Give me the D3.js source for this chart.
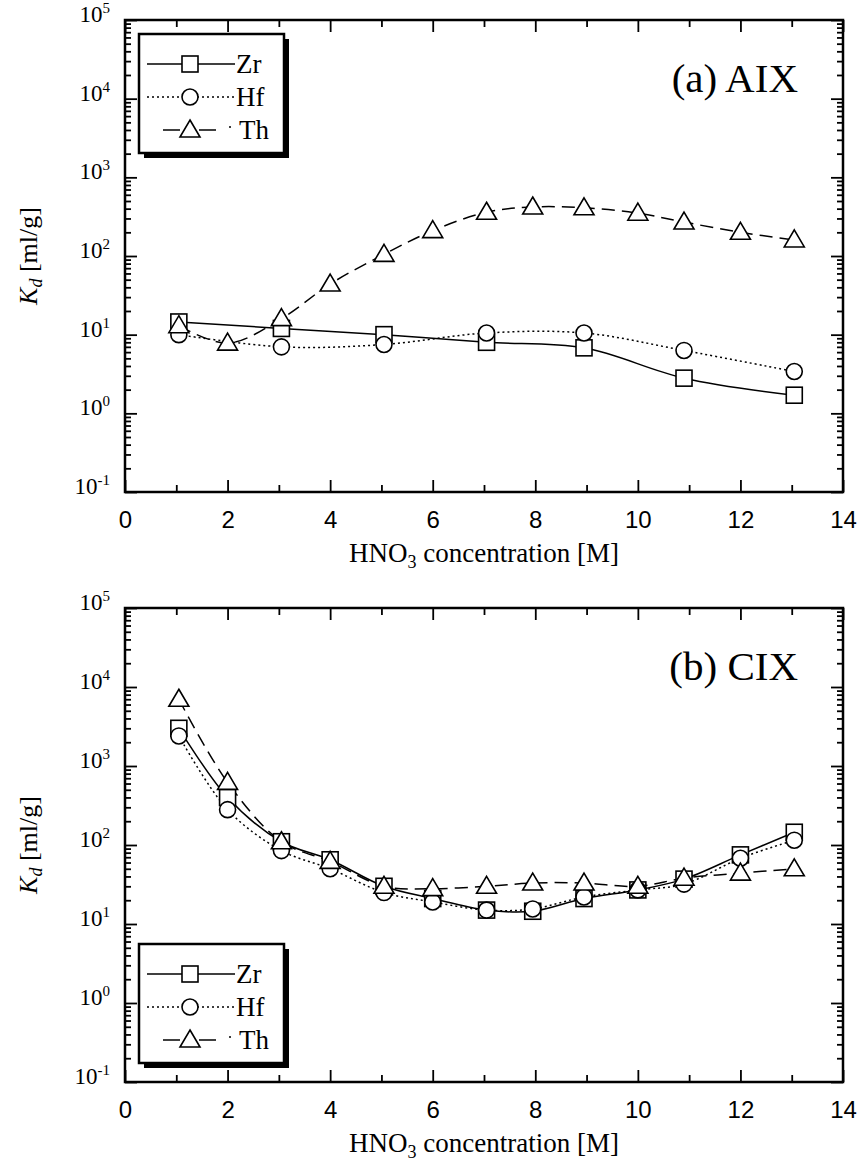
<!DOCTYPE html>
<html>
<head>
<meta charset="utf-8">
<script src="https://cdn.jsdelivr.net/npm/d3@7"></script>
<style>
  body { margin: 0; background: #fff; }
  svg { display: block; font-family: "Liberation Serif", "Times New Roman", serif; }
  .tick line { stroke: #000; stroke-width: 1.8px; }
</style>
</head>
<body>
<script>
// HNO3 concentration (M) at which Kd was measured
var concentrations = [1.05, 2, 3.05, 4, 5.05, 6, 7.05, 7.95, 8.95, 10, 10.9, 12, 13.05];
// (a) AIX: Zr and Hf measured only at every other concentration
var aixZrHfConc = [1.05, 3.05, 5.05, 7.05, 8.95, 10.9, 13.05];
var aixZr = [14.5, 12, 10, 8, 6.8, 2.8, 1.7];
var aixHf = [10, 7, 7.5, 10.5, 10.5, 6.3, 3.4];
var aixTh = [13, 7.8, 16, 44, 105, 210, 360, 420, 410, 350, 270, 200, 160];
// (b) CIX
var cixZr = [3000, 400, 110, 65, 30, 21, 15, 14.5, 21, 27, 37, 75, 145];
var cixHf = [2400, 280, 85, 50, 25, 19, 15, 15.5, 22, 27, 32, 68, 115];
var cixTh = [7000, 620, 110, 62, 30, 28, 30, 33, 33, 30, 38, 44, 50];
// axis ticks
var xMajorTicks = [0, 2, 4, 6, 8, 10, 12, 14];
var xMinorTicks = [1, 3, 5, 7, 9, 11, 13];
var yExponents = [-1, 0, 1, 2, 3, 4, 5];
var seriesNames = ["Zr", "Hf", "Th"];

var W = 857, H = 1168;
var svg = d3.select("body").append("svg").attr("width", W).attr("height", H);

var x = d3.scaleLinear().domain([0, 14]).range([125, 843]);

// line style per element
var dash = { Zr: null, Hf: "2,3", Th: "13,7" };

function yMinor() {
  var out = [];
  yExponents.slice(0, -1).forEach(function(e) {
    for (var k = 2; k <= 9; k++) out.push(k * Math.pow(10, e));
  });
  return out;
}

function marker(g, name, cx, cy) {
  if (name === "Zr") {
    g.append("rect").attr("x", cx - 8).attr("y", cy - 8).attr("width", 16).attr("height", 16)
      .attr("fill", "#fff").attr("stroke", "#000").attr("stroke-width", 1.6);
  } else if (name === "Hf") {
    g.append("circle").attr("cx", cx).attr("cy", cy).attr("r", 8)
      .attr("fill", "#fff").attr("stroke", "#000").attr("stroke-width", 1.6);
  } else {
    g.append("path").attr("d", "M" + cx + "," + (cy - 10) + "L" + (cx + 10) + "," + (cy + 7) + "L" + (cx - 10) + "," + (cy + 7) + "Z")
      .attr("fill", "#fff").attr("stroke", "#000").attr("stroke-width", 1.6);
  }
}

function drawPanel(top, bottom, label, series, legendTop) {
  var y = d3.scaleLog().domain([0.1, 1e5]).range([bottom, top]);
  var g = svg.append("g");

  // ticks, all pointing inward
  g.append("g").attr("transform", "translate(0," + bottom + ")")
    .call(d3.axisBottom(x).tickValues(xMajorTicks).tickSize(-12).tickPadding(19))
    .call(function(a) { a.select(".domain").remove(); a.selectAll("text").attr("font-size", 24).attr("fill", "#000"); });
  g.append("g").attr("transform", "translate(0," + bottom + ")")
    .call(d3.axisBottom(x).tickValues(xMinorTicks).tickSize(-7).tickFormat(""))
    .call(function(a) { a.select(".domain").remove(); });
  g.append("g").attr("transform", "translate(0," + top + ")")
    .call(d3.axisTop(x).tickValues(xMajorTicks).tickSize(-12).tickFormat(""))
    .call(function(a) { a.select(".domain").remove(); });
  g.append("g").attr("transform", "translate(0," + top + ")")
    .call(d3.axisTop(x).tickValues(xMinorTicks).tickSize(-7).tickFormat(""))
    .call(function(a) { a.select(".domain").remove(); });

  var decades = yExponents.map(function(e) { return Math.pow(10, e); });
  [[x(0), d3.axisLeft], [x(14), d3.axisRight]].forEach(function(s) {
    g.append("g").attr("transform", "translate(" + s[0] + ",0)")
      .call(s[1](y).tickValues(decades).tickSize(-12).tickFormat(""))
      .call(function(a) { a.select(".domain").remove(); });
    g.append("g").attr("transform", "translate(" + s[0] + ",0)")
      .call(s[1](y).tickValues(yMinor()).tickSize(-6).tickFormat(""))
      .call(function(a) { a.select(".domain").remove(); a.selectAll("line").attr("stroke-width", 1.3); });
  });

  // y tick labels 10^n
  yExponents.forEach(function(e) {
    var t = g.append("text").attr("x", 110).attr("y", y(Math.pow(10, e)) + 2)
      .attr("text-anchor", "end").attr("font-size", 23);
    t.append("tspan").text("10");
    t.append("tspan").attr("font-size", 15).attr("dy", -9).text(e);
  });

  // frame
  g.append("rect").attr("x", x(0)).attr("y", top).attr("width", x(14) - x(0)).attr("height", bottom - top)
    .attr("fill", "none").attr("stroke", "#000").attr("stroke-width", 2.5);

  // axis titles
  var xt = g.append("text").attr("x", (x(0) + x(14)) / 2).attr("y", bottom + 70)
    .attr("text-anchor", "middle").attr("font-size", 27);
  xt.append("tspan").text("HNO");
  xt.append("tspan").attr("font-size", 18).attr("dy", 6).text("3");
  xt.append("tspan").attr("dy", -6).text(" concentration [M]");

  var yt = g.append("text").attr("transform", "translate(37," + (top + bottom) / 2 + ") rotate(-90)")
    .attr("text-anchor", "middle").attr("font-size", 26);
  yt.append("tspan").attr("font-style", "italic").text("K");
  yt.append("tspan").attr("font-style", "italic").attr("font-size", 18).attr("dy", 5).text("d");
  yt.append("tspan").attr("dy", -5).text(" [ml/g]");

  g.append("text").attr("x", 798).attr("y", top + 72).attr("text-anchor", "end")
    .attr("font-size", 41).text(label);

  // curves then markers
  var line = d3.line().curve(d3.curveCatmullRom.alpha(0.5))
    .x(function(d) { return x(d[0]); }).y(function(d) { return y(d[1]); });
  series.forEach(function(s) {
    var pts = s.xs.map(function(v, i) { return [v, s.ys[i]]; });
    g.append("path").attr("d", line(pts)).attr("fill", "none").attr("stroke", "#000")
      .attr("stroke-width", 1.5).attr("stroke-dasharray", dash[s.name]);
  });
  series.forEach(function(s) {
    s.xs.forEach(function(v, i) { marker(g, s.name, x(v), y(s.ys[i])); });
  });

  // legend with drop shadow
  var lg = g.append("g").attr("transform", "translate(139," + legendTop + ")");
  lg.append("rect").attr("x", 5).attr("y", 5).attr("width", 145).attr("height", 119).attr("fill", "#000");
  lg.append("rect").attr("width", 145).attr("height", 119).attr("fill", "#fff")
    .attr("stroke", "#000").attr("stroke-width", 2.5);
  seriesNames.forEach(function(n, i) {
    var ly = 30 + i * 33;
    if (n === "Th") {
      lg.append("line").attr("x1", 24).attr("x2", 41).attr("y1", ly).attr("y2", ly).attr("stroke", "#000").attr("stroke-width", 1.5);
      lg.append("line").attr("x1", 60).attr("x2", 77).attr("y1", ly).attr("y2", ly).attr("stroke", "#000").attr("stroke-width", 1.5);
      lg.append("line").attr("x1", 90).attr("x2", 92).attr("y1", ly - 3).attr("y2", ly - 3).attr("stroke", "#000").attr("stroke-width", 1.5);
    } else {
      lg.append("line").attr("x1", 8).attr("x2", 96).attr("y1", ly).attr("y2", ly).attr("stroke", "#000")
        .attr("stroke-width", 1.5).attr("stroke-dasharray", dash[n]);
    }
    marker(lg, n, 51, ly);
    lg.append("text").attr("x", n === "Th" ? 100 : 97).attr("y", ly + 9).attr("font-size", 27).text(n);
  });
}

drawPanel(20, 492, "(a) AIX", [
  { name: "Zr", xs: aixZrHfConc, ys: aixZr },
  { name: "Hf", xs: aixZrHfConc, ys: aixHf },
  { name: "Th", xs: concentrations, ys: aixTh }
], 34);

drawPanel(608, 1082, "(b) CIX", [
  { name: "Zr", xs: concentrations, ys: cixZr },
  { name: "Hf", xs: concentrations, ys: cixHf },
  { name: "Th", xs: concentrations, ys: cixTh }
], 944);
</script>
</body>
</html>
